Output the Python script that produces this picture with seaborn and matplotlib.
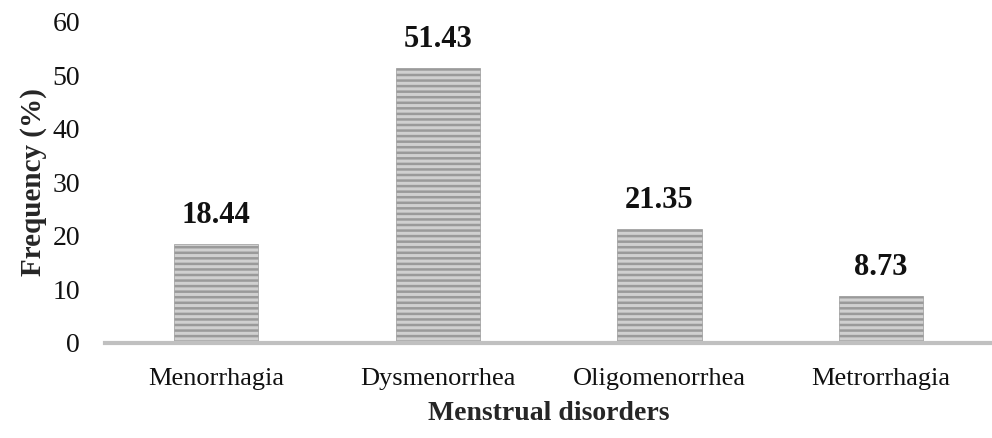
import matplotlib
matplotlib.use("Agg")
import matplotlib.pyplot as plt
import seaborn as sns
import pandas as pd

disorders = ["Menorrhagia", "Dysmenorrhea", "Oligomenorrhea", "Metrorrhagia"]
frequency = [18.44, 51.43, 21.35, 8.73]

sns.set_theme(style="white")
plt.rcParams["font.family"] = ["Liberation Serif", "DejaVu Serif"]
plt.rcParams["hatch.color"] = "#555555"
plt.rcParams["hatch.linewidth"] = 1.8
plt.rcParams["text.color"] = "#111111"
plt.rcParams["xtick.color"] = "#111111"
plt.rcParams["ytick.color"] = "#111111"

df = pd.DataFrame({"disorder": disorders, "freq": frequency})

fig = plt.figure(figsize=(9.92, 4.38), dpi=100)
ax = fig.add_axes([0.106, 0.217, 0.894, 0.733])

sns.barplot(data=df, x="disorder", y="freq", color="#d0d0d0", width=0.38,
            saturation=1, ax=ax)
for p in ax.patches:
    p.set_hatch("---")
    p.set_edgecolor("#9a9a9a")
    p.set_linewidth(0.5)

for i, v in enumerate(frequency):
    ax.text(i, v + 2.6, f"{v:.2f}", ha="center", va="bottom",
            fontsize=22, fontweight="bold")

ax.set_ylim(0, 60)
ax.set_yticks(range(0, 61, 10))
for s in ["top", "right", "left"]:
    ax.spines[s].set_visible(False)
ax.spines["bottom"].set_color("#c0c0c0")
ax.spines["bottom"].set_linewidth(3)
ax.tick_params(axis="y", length=0, pad=18, labelsize=20)
ax.tick_params(axis="x", length=0, pad=18, labelsize=19)
ax.set_xlabel("Menstrual disorders", fontsize=20, fontweight="bold", labelpad=8)
ax.set_ylabel("Frequency (%)", fontsize=21, fontweight="bold", labelpad=4)

fig.savefig("out.png", dpi=100)
